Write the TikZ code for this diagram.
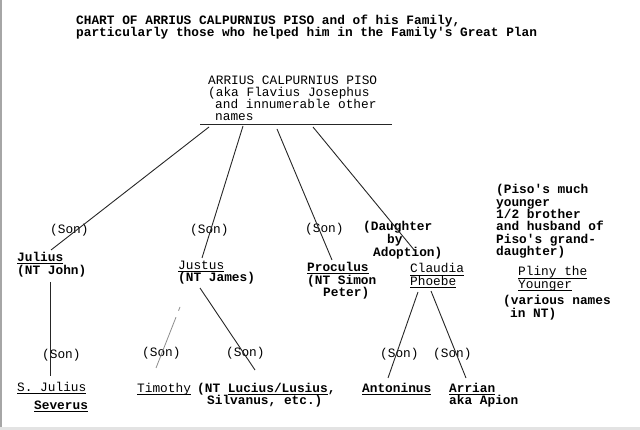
\documentclass[tikz,border=0pt]{standalone}
\usepackage{fontspec}
\setmainfont{Liberation Mono}[Ligatures=TeXOff]
\newcommand{\ulx}[1]{\setbox0\hbox{#1}\rlap{\rule[-2.6pt]{\wd0}{1pt}}\box0}
\begin{document}
\begin{tikzpicture}[x=1pt,y=-1pt,
  txt/.style={anchor=base west, inner sep=0pt, align=left, font=\fontsize{12.8}{12.3}\selectfont},
  bt/.style={txt, font=\fontsize{12.8}{12.3}\selectfont\bfseries},
  link/.style={line width=0.9pt, black!85},
  faint/.style={line width=0.8pt, black!45, dash pattern=on 4pt off 7pt on 60pt}]
\useasboundingbox (0,0) rectangle (640,430);
% scan edges
\draw[gray!70, line width=1.5pt] (1,0) -- (1,430);
\fill[gray!22] (0,427) rectangle (640,430);

% title (multi-line nodes are anchored at the baseline of their last line)
\node[bt] (title) at (76,37) {CHART OF ARRIUS CALPURNIUS PISO and of his Family,\\particularly those who helped him in the Family's Great Plan};

% Piso
\node[txt] (piso) at (208,121) {ARRIUS CALPURNIUS PISO\\(aka Flavius Josephus\\\hspace*{7pt}and innumerable other\\\hspace*{7pt}names};
\coordinate (barL) at (200,124);
\coordinate (barR) at (392,124);
\draw[link] (barL) -- (barR);

% first generation
\node[bt] (julius) at (17,275) {\ulx{Julius}\\[1pt](NT John)};
\node[txt] (justus) at (178,282) {\ulx{Justus}\\\textbf{(NT James)}};
\node[bt] (proculus) at (307,296.5) {\ulx{Proculus}\\(NT Simon\\\hspace*{16pt}Peter)};
\node[txt] (claudia) at (410,285.3) {\ulx{Claudia}\\\ulx{Phoebe}};

\node[txt] (sonA) at (50,234) {(Son)};
\node[txt] (sonB) at (190,234) {(Son)};
\node[txt] (sonC) at (305,233) {(Son)};
\node[bt, font=\fontsize{12.8}{11.6}\selectfont\bfseries] (dau) at (363,256.2) {(Daughter\\\hspace*{24pt}by\\\hspace*{10pt}Adoption)};

\coordinate (a0) at (209,127);
\coordinate (a1) at (51,250);
\coordinate (b0) at (243,126);
\coordinate (b1) at (202,258);
\coordinate (c0) at (277,129);
\coordinate (c1) at (332,260);
\coordinate (d0) at (313,127);
\coordinate (d1) at (415,251);
\draw[link] (a0) -- (a1);
\draw[link] (b0) -- (b1);
\draw[link] (c0) -- (c1);
\draw[link] (d0) -- (d1);

% Pliny
\node[bt] (note) at (496,255.5) {(Piso's much\\younger\\1/2 brother\\and husband of\\Piso's grand-\\daughter)};
\node[txt] (pliny) at (518,288.3) {\ulx{Pliny the}\\\ulx{Younger}};
\node[bt] (various) at (503,317.3) {(various names\\\hspace*{7pt}in NT)};

% second generation
\node[txt] (sjulius) at (17,409.3) {\ulx{S. Julius}\\[6pt]\hspace*{17pt}\textbf{\ulx{Severus}}};
\node[txt] (timothy) at (137,392) {\ulx{Timothy}};
\node[bt] (lucius) at (197,404.3) {(NT \ulx{Lucius/Lusius},\\\hspace*{10pt}Silvanus, etc.)};
\node[bt] (antoninus) at (362,392) {\ulx{Antoninus}};
\node[bt] (arrian) at (449,404.3) {\ulx{Arrian}\\aka Apion};

\node[txt] (sonD) at (42,359) {(Son)};
\node[txt] (sonE) at (142,356) {(Son)};
\node[txt] (sonF) at (226,356) {(Son)};
\node[txt] (sonG) at (380,358) {(Son)};
\node[txt] (sonH) at (433,358) {(Son)};

\coordinate (jv0) at (50,282);
\coordinate (jv1) at (50,376);
\coordinate (tv0) at (180,307);
\coordinate (tv1) at (156,368);
\coordinate (lv0) at (200,288);
\coordinate (lv1) at (255,370);
\coordinate (cv0) at (418,292);
\coordinate (cv1) at (388,378);
\coordinate (cw0) at (431,291);
\coordinate (cw1) at (466,378);
\draw[link] (jv0) -- (jv1);
\draw[faint] (tv0) -- (tv1);
\draw[link] (lv0) -- (lv1);
\draw[link] (cv0) -- (cv1);
\draw[link] (cw0) -- (cw1);
\end{tikzpicture}
\end{document}
